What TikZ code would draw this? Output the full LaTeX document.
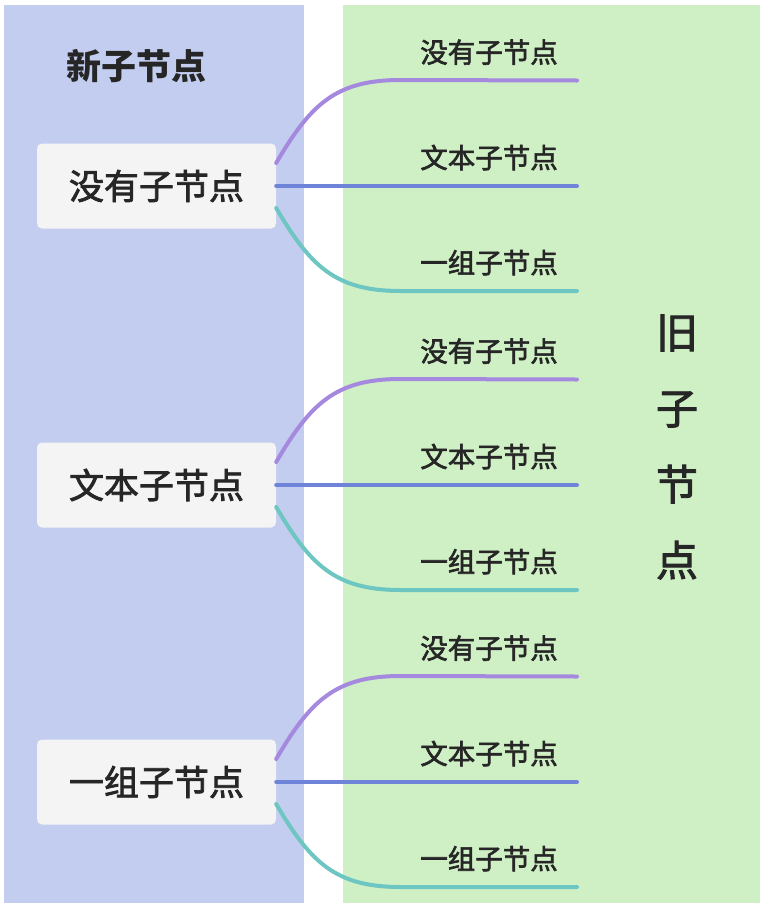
\documentclass[tikz,border=0pt]{standalone}
\usepackage{fontspec}
\setmainfont{Noto Sans CJK SC}
\newfontfamily\cjkmed[FakeBold=2.2]{Noto Sans CJK SC}
\usetikzlibrary{positioning}
\definecolor{newbg}{HTML}{C3CDF0}
\definecolor{oldbg}{HTML}{CFF0C5}
\definecolor{boxfill}{HTML}{F4F4F5}
\definecolor{inkdark}{HTML}{262626}
\definecolor{linkA}{HTML}{A489DE}
\definecolor{linkB}{HTML}{6F83D8}
\definecolor{linkC}{HTML}{6DC6C1}

\begin{document}
\begin{tikzpicture}[x=1pt,y=-1pt,
  newnode/.style={fill=boxfill,rounded corners=5pt,minimum width=239pt,minimum height=85pt,
    inner sep=0pt,text=inkdark,font=\cjkmed\fontsize{35}{40}\selectfont},
  oldlabel/.style={inner sep=0pt,text=inkdark,font=\cjkmed\fontsize{27.5}{30}\selectfont},
  link/.style={line width=4pt,line cap=round}]
\useasboundingbox (0,0) rectangle (764,908);
% two panels
\fill[newbg] (4,5) rectangle (304,903);
\fill[oldbg] (343,5) rectangle (760,903);
\node (title) [text=inkdark,font=\bfseries\fontsize{35}{40}\selectfont] at (136,66) {新子节点};
\node (side) [text=inkdark,align=center,font=\cjkmed\fontsize{42}{76}\selectfont] at (677,447) {旧\\子\\节\\点};

\foreach \g/\txt/\y in {1/没有子节点/186,2/文本子节点/485,3/一组子节点/782}{
  \node (n\g) [newnode] at (156.5,\y) {\txt};
  \coordinate (a\g) at (577,\y-105.5);
  \coordinate (b\g) at (577,\y);
  \coordinate (c\g) at (577,\y+105);
  \node (la\g) [oldlabel,above left=15.5pt and 19pt of a\g] {没有子节点};
  \node (lb\g) [oldlabel,above left=15.5pt and 19pt of b\g] {文本子节点};
  \node (lc\g) [oldlabel,above left=15.5pt and 19pt of c\g] {一组子节点};
  \draw[link,linkA] ([yshift=23pt]n\g.east) .. controls +(34,-58) and +(-65,0) .. ++(124,-83) -- (a\g);
  \draw[link,linkB] (n\g.east) -- (b\g);
  \draw[link,linkC] ([yshift=-22pt]n\g.east) .. controls +(34,58) and +(-65,0) .. ++(124,83) -- (c\g);
}
\end{tikzpicture}
\end{document}
